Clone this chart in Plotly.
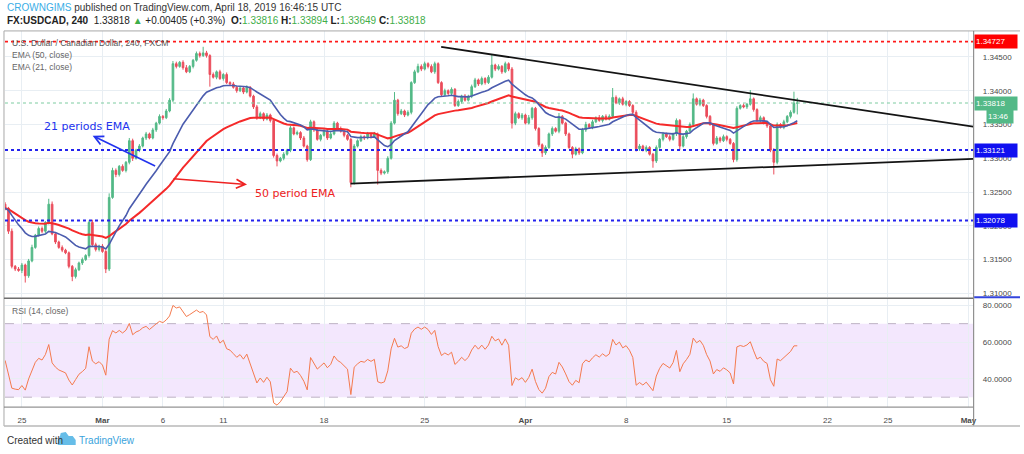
import numpy as np
import pandas as pd
import plotly.graph_objects as go

# ------------------------------------------------------------------ data
# 4-hour bars, weekends skipped; bar 0 = first bar of Mon 25 Feb 2019 (6 bars per day)
FIRST_BAR = -5
FIRST_OPEN = 1.3232
CLOSE = [
    1.3226, 1.3192, 1.3140, 1.3136, 1.3134, 1.3142, 1.3126, 1.3148, 1.3168, 1.3186,
    1.3196, 1.3192, 1.3205, 1.3232, 1.3188, 1.3176, 1.3168, 1.3164, 1.3160, 1.3140,
    1.3125, 1.3135, 1.3145, 1.3150, 1.3156, 1.3205, 1.3172, 1.3165, 1.3170, 1.3162,
    1.3136, 1.3242, 1.3282, 1.3276, 1.3288, 1.3282, 1.3294, 1.3326, 1.3300, 1.3312,
    1.3318, 1.3330, 1.3336, 1.3330, 1.3342, 1.3352, 1.3362, 1.3360, 1.3370, 1.3386,
    1.3440, 1.3436, 1.3442, 1.3434, 1.3428, 1.3436, 1.3445, 1.3455, 1.3452, 1.3456,
    1.3452, 1.3424, 1.3420, 1.3428, 1.3418, 1.3424, 1.3412, 1.3410, 1.3405, 1.3400,
    1.3404, 1.3398, 1.3405, 1.3392, 1.3376, 1.3360, 1.3366, 1.3358, 1.3364, 1.3356,
    1.3304, 1.3296, 1.3300, 1.3306, 1.3312, 1.3345, 1.3336, 1.3338, 1.3330, 1.3318,
    1.3298, 1.3354, 1.3342, 1.3328, 1.3334, 1.3340, 1.3330, 1.3336, 1.3352, 1.3344,
    1.3340, 1.3334, 1.3328, 1.3264, 1.3318, 1.3326, 1.3332, 1.3330, 1.3336, 1.3332,
    1.3336, 1.3282, 1.3278, 1.3280, 1.3300, 1.3352, 1.3386, 1.3366, 1.3370, 1.3364,
    1.3368, 1.3412, 1.3428, 1.3436, 1.3432, 1.3440, 1.3436, 1.3428, 1.3440, 1.3412,
    1.3394, 1.3400, 1.3396, 1.3402, 1.3378, 1.3384, 1.3392, 1.3386, 1.3392, 1.3406,
    1.3416, 1.3410, 1.3418, 1.3412, 1.3420, 1.3438, 1.3432, 1.3436, 1.3428, 1.3440,
    1.3432, 1.3352, 1.3366, 1.3360, 1.3364, 1.3352, 1.3360, 1.3374, 1.3344, 1.3320,
    1.3308, 1.3316, 1.3336, 1.3344, 1.3340, 1.3362, 1.3352, 1.3336, 1.3316, 1.3306,
    1.3314, 1.3308, 1.3342, 1.3350, 1.3346, 1.3354, 1.3360, 1.3356, 1.3362, 1.3358,
    1.3362, 1.3390, 1.3382, 1.3388, 1.3380, 1.3384, 1.3378, 1.3368, 1.3314, 1.3318,
    1.3312, 1.3316, 1.3306, 1.3296, 1.3316, 1.3328, 1.3336, 1.3332, 1.3328, 1.3336,
    1.3356, 1.3318, 1.3332, 1.3340, 1.3350, 1.3388, 1.3380, 1.3386, 1.3378, 1.3362,
    1.3350, 1.3322, 1.3330, 1.3326, 1.3332, 1.3328, 1.3322, 1.3298, 1.3374, 1.3378,
    1.3376, 1.3380, 1.3388, 1.3372, 1.3356, 1.3360, 1.3352, 1.3348, 1.3312, 1.3294,
    1.3350, 1.3346, 1.3354, 1.3362, 1.3368, 1.33816, 1.33818,
]
# wick lengths in pips above the body top / below the body bottom
WICK_UP = [
    3, 2, 4, 2, 3, 3, 2, 3, 4, 2,
    3, 3, 2, 8, 4, 2, 2, 3, 2, 2,
    2, 3, 2, 3, 2, 3, 4, 3, 2, 3,
    2, 6, 4, 3, 2, 3, 2, 4, 3, 2,
    3, 2, 3, 2, 3, 2, 3, 2, 3, 3,
    4, 3, 2, 3, 4, 2, 2, 3, 3, 9,
    3, 2, 3, 2, 3, 2, 3, 2, 3, 2,
    3, 2, 3, 2, 2, 3, 3, 2, 3, 2,
    2, 3, 2, 3, 2, 3, 2, 3, 2, 3,
    2, 3, 2, 3, 2, 4, 3, 5, 3, 2,
    3, 2, 2, 2, 3, 2, 3, 2, 3, 2,
    3, 2, 3, 2, 3, 3, 12, 2, 3, 2,
    3, 2, 3, 4, 3, 3, 2, 3, 3, 2,
    2, 3, 2, 3, 2, 3, 2, 3, 2, 3,
    3, 2, 3, 2, 3, 15, 2, 3, 2, 3,
    2, 3, 3, 2, 3, 2, 4, 2, 2, 2,
    2, 3, 2, 3, 2, 5, 2, 2, 2, 2,
    3, 2, 3, 4, 2, 3, 2, 4, 2, 3,
    3, 14, 3, 2, 3, 2, 2, 2, 3, 3,
    2, 3, 2, 2, 3, 2, 3, 2, 3, 2,
    3, 2, 3, 2, 3, 8, 2, 3, 2, 2,
    2, 2, 3, 2, 3, 2, 2, 2, 3, 2,
    3, 2, 13, 2, 2, 3, 2, 2, 2, 3,
    3, 2, 3, 2, 3, 17, 7.6,
]
WICK_DN = [
    3, 4, 3, 3, 2, 4, 10, 3, 2, 2,
    2, 3, 3, 3, 2, 3, 2, 3, 2, 3,
    7, 3, 2, 3, 2, 3, 2, 3, 3, 2,
    6, 3, 2, 4, 3, 2, 3, 3, 4, 2,
    3, 2, 3, 2, 2, 3, 2, 3, 2, 2,
    3, 3, 2, 3, 2, 2, 3, 2, 3, 2,
    3, 18, 2, 3, 2, 3, 2, 3, 2, 3,
    2, 3, 2, 2, 3, 3, 2, 3, 2, 3,
    3, 8, 2, 3, 2, 3, 2, 2, 3, 2,
    3, 2, 3, 2, 3, 2, 3, 2, 2, 3,
    2, 3, 2, 7, 3, 2, 2, 3, 2, 3,
    2, 21, 3, 2, 3, 2, 2, 3, 2, 3,
    2, 3, 2, 2, 3, 2, 3, 2, 3, 2,
    3, 2, 3, 3, 2, 2, 3, 2, 2, 3,
    2, 3, 2, 3, 2, 2, 3, 2, 3, 2,
    3, 8, 3, 2, 3, 2, 2, 3, 3, 3,
    6, 3, 2, 3, 2, 3, 2, 3, 2, 6,
    2, 3, 2, 3, 2, 3, 2, 2, 3, 2,
    2, 3, 2, 3, 2, 3, 2, 3, 4, 3,
    2, 3, 2, 10, 3, 2, 3, 2, 3, 2,
    3, 6, 2, 3, 2, 3, 2, 3, 2, 3,
    2, 3, 2, 3, 2, 3, 2, 4, 3, 2,
    2, 3, 2, 3, 2, 3, 2, 3, 3, 18,
    3, 2, 3, 2, 3, 2, 16.7,
]
PIP = 0.0001

DATE_TICK_BARS = [0, 24, 42, 60, 90, 120, 150, 180, 210, 240, 258, 282]
DATE_TICK_TEXT = ["25", "<b>Mar</b>", "6", "11", "18", "25", "<b>Apr</b>", "8", "15",
                  "22", "25", "<b>May</b>"]
PRICE_TICKS = [1.310, 1.315, 1.320, 1.325, 1.330, 1.335, 1.340, 1.345]
RSI_TICKS = [40, 60, 80]
RSI_BAND = [30, 70]

RESIST_LEVEL = 1.34727
SUPPORT_LEVELS = [1.33121, 1.32078]
LAST_PRICE = 1.33818
COUNTDOWN = "13:46"
TREND_UPPER_BARS = [124.9, 283.4]
TREND_UPPER_PRICES = [1.34648, 1.33467]
TREND_LOWER_BARS = [97.9, 283.4]
TREND_LOWER_PRICES = [1.32625, 1.32990]

EMA_FAST, EMA_SLOW, RSI_LEN = 21, 50, 14
RSI_SEED = 0.0008          # initial average gain/loss (history before the first bar)

HDR_OPEN, HDR_HIGH, HDR_LOW, HDR_CLOSE = "1.33816", "1.33894", "1.33649", "1.33818"
HDR_CHANGE = "+0.00405 (+0.3%)"

# ------------------------------------------------------------------ derived
n = len(CLOSE)
bars = list(range(FIRST_BAR, FIRST_BAR + n))
close = np.array(CLOSE)
open_ = np.concatenate([[FIRST_OPEN], close[:-1]])
high = np.maximum(open_, close) + np.array(WICK_UP) * PIP
low = np.minimum(open_, close) - np.array(WICK_DN) * PIP

s = pd.Series(close)
ema_fast = s.ewm(span=EMA_FAST, adjust=False).mean()
ema_slow = s.ewm(span=EMA_SLOW, adjust=False).mean()

ag = al = RSI_SEED
rsi = [100 - 100 / (1 + ag / al)]
for d in np.diff(close):
    ag = (ag * (RSI_LEN - 1) + max(d, 0)) / RSI_LEN
    al = (al * (RSI_LEN - 1) + max(-d, 0)) / RSI_LEN
    rsi.append(100 - 100 / (1 + ag / al))

# ------------------------------------------------------------------ figure
W, H = 1024, 454
FONT = "Liberation Sans, Arial, sans-serif"
UP, DOWN = "#53b987", "#eb4d5c"
GRID = "#e8eef3"
TXT = "#4a4a4a"


def fx(px):
    return px / W


def fy(py):
    return 1 - py / H


X_LEFT, X_RIGHT = 5, 977
MAIN_TOP, MAIN_BOT = 31, 298
RSI_TOP, RSI_BOT = 299.5, 408
XRANGE = [FIRST_BAR - 0.04, 283.4]

fig = go.Figure()
fig.add_trace(go.Candlestick(
    x=bars, open=open_, high=high, low=low, close=close,
    increasing=dict(line=dict(color=UP, width=1), fillcolor=UP),
    decreasing=dict(line=dict(color=DOWN, width=1), fillcolor=DOWN),
    whiskerwidth=0, hoverinfo="skip", xaxis="x", yaxis="y"))
fig.add_trace(go.Scatter(x=bars, y=ema_slow, mode="lines",
                         line=dict(color="#f52a2a", width=2), hoverinfo="skip",
                         xaxis="x", yaxis="y"))
fig.add_trace(go.Scatter(x=bars, y=ema_fast, mode="lines",
                         line=dict(color="#4b5cae", width=1.6), hoverinfo="skip",
                         xaxis="x", yaxis="y"))
fig.add_trace(go.Scatter(x=bars, y=rsi, mode="lines",
                         line=dict(color="#f47a4e", width=1), hoverinfo="skip",
                         xaxis="x2", yaxis="y2"))

axis_common = dict(showline=False, zeroline=False, gridcolor=GRID, gridwidth=1,
                   fixedrange=True)
fig.update_layout(
    width=W, height=H, margin=dict(l=0, r=0, t=0, b=0),
    paper_bgcolor="white", plot_bgcolor="white", showlegend=False,
    font=dict(family=FONT, color=TXT),
    xaxis=dict(domain=[fx(X_LEFT), fx(X_RIGHT)], range=XRANGE, anchor="y",
               tickvals=DATE_TICK_BARS, showticklabels=False, ticks="",
               rangeslider=dict(visible=False), **axis_common),
    yaxis=dict(domain=[fy(MAIN_BOT), fy(MAIN_TOP)], range=[1.30941, 1.34885],
               anchor="x", side="right", tickvals=PRICE_TICKS, tickformat=".5f",
               ticks="outside", ticklen=7, tickcolor="rgba(0,0,0,0)",
               tickfont=dict(size=8, color=TXT), **axis_common),
    xaxis2=dict(domain=[fx(X_LEFT), fx(X_RIGHT)], range=XRANGE, anchor="y2",
                tickvals=DATE_TICK_BARS, ticktext=DATE_TICK_TEXT,
                ticks="outside", ticklen=5, tickcolor="rgba(0,0,0,0)",
                tickfont=dict(size=8, color=TXT), **axis_common),
    yaxis2=dict(domain=[fy(RSI_BOT), fy(RSI_TOP)], range=[24.6, 83.5],
                anchor="x2", side="right", tickvals=RSI_TICKS, tickformat=".4f",
                ticks="outside", ticklen=7, tickcolor="rgba(0,0,0,0)",
                tickfont=dict(size=8, color=TXT), **axis_common),
)

# RSI band and its dashed limits
fig.add_shape(type="rect", xref="x2 domain", yref="y2", x0=0, x1=1,
              y0=RSI_BAND[0], y1=RSI_BAND[1], fillcolor="#f3e7fd",
              line=dict(width=0), layer="below")
for lv in RSI_BAND:
    fig.add_shape(type="line", xref="x2 domain", yref="y2", x0=0, x1=1, y0=lv, y1=lv,
                  line=dict(color="#bdb3c4", width=1, dash="dash"), layer="below")

# horizontal levels
fig.add_shape(type="line", xref="x domain", yref="y", x0=0, x1=1,
              y0=LAST_PRICE, y1=LAST_PRICE,
              line=dict(color="#7ccba0", width=1, dash="dot"), layer="above")
fig.add_shape(type="line", xref="x domain", yref="y", x0=0, x1=1,
              y0=RESIST_LEVEL, y1=RESIST_LEVEL,
              line=dict(color="#ff1a1a", width=1.8, dash="dot"), layer="above")
for lv in SUPPORT_LEVELS:
    fig.add_shape(type="line", xref="x domain", yref="y", x0=0, x1=1, y0=lv, y1=lv,
                  line=dict(color="#2222ee", width=2, dash="dot"), layer="above")

# trend lines
for bx, py in ((TREND_UPPER_BARS, TREND_UPPER_PRICES), (TREND_LOWER_BARS, TREND_LOWER_PRICES)):
    fig.add_shape(type="line", xref="x", yref="y", x0=bx[0], x1=bx[1], y0=py[0], y1=py[1],
                  line=dict(color="#141414", width=1.8), layer="above")

# frame lines
for (x0, y0, x1, y1, c, w) in [
    (4, MAIN_TOP, W, MAIN_TOP, "#a8a8a8", 1),
    (4, MAIN_TOP, 4, 427, "#a8a8a8", 1),
    (4, 299, X_RIGHT, 299, "#6f6f6f", 1.5),
    (4, RSI_BOT, X_RIGHT, RSI_BOT, "#7a7a7a", 1),
    (X_RIGHT + 0.5, MAIN_TOP, X_RIGHT + 0.5, 427, "#7a7a7a", 1),
    (4, 427, W, 427, "#b8b8b8", 1.5),
    (X_RIGHT + 1, 298, W, 298, "#3344dd", 2),
]:
    fig.add_shape(type="line", xref="paper", yref="paper", x0=fx(x0), x1=fx(x1),
                  y0=fy(y0), y1=fy(y1), line=dict(color=c, width=w), layer="above")


def note(text, x, y, size, color, xanchor="left", yanchor="middle", family=FONT, **kw):
    fig.add_annotation(text=text, x=fx(x), y=fy(y), xref="paper", yref="paper",
                       showarrow=False, xanchor=xanchor, yanchor=yanchor,
                       font=dict(size=size, color=color, family=family), **kw)


GREEN_TXT = "#3fae49"
note("<span style='color:#3aaee6'>CROWNGIMS</span> published on TradingView.com, "
     "April 18, 2019 16:46:15 UTC", 5, 8, 10, "#333333")
note(f"<b>FX:USDCAD, 240</b>  {HDR_CLOSE} <span style='color:{GREEN_TXT}'>▲</span> {HDR_CHANGE}  "
     f"<b>O:</b><span style='color:{GREEN_TXT}'>{HDR_OPEN}</span> "
     f"<b>H:</b><span style='color:{GREEN_TXT}'>{HDR_HIGH}</span> "
     f"<b>L:</b><span style='color:{GREEN_TXT}'>{HDR_LOW}</span> "
     f"<b>C:</b><span style='color:{GREEN_TXT}'>{HDR_CLOSE}</span>", 5, 21, 10, "#222222")

note("U.S. Dollar / Canadian Dollar, 240, FXCM", 10, 43, 8.5, "#555555")
note("EMA (50, close)", 10, 55, 8.5, "#666666")
note("EMA (21, close)", 10, 67, 8.5, "#666666")
note("RSI (14, close)", 10, 312, 8.5, "#666666")

note("Created with", 5, 441, 10, "#333333")
note("TradingView", 77, 441, 10, "#3aa3dc")
cloud = [(58, 446), (76, 446), (76, 441), (73, 437), (69, 437), (66, 433), (61, 434),
         (60, 438), (58, 441)]
path = "M " + " L ".join(f"{fx(a):.5f},{fy(b):.5f}" for a, b in cloud) + " Z"
fig.add_shape(type="path", xref="paper", yref="paper", path=path,
              fillcolor="#66bde8", line=dict(width=0))

# EMA call-outs
note("21 periods EMA", 87, 127, 11, "#2233ee", xanchor="center", family="DejaVu Sans")
note("50 period EMA", 296, 194, 11, "#ee2222", xanchor="center", family="DejaVu Sans")
fig.add_annotation(x=fx(93), y=fy(136), xref="paper", yref="paper", text="",
                   showarrow=True, ax=157 - 93, ay=167 - 136, arrowhead=5, arrowsize=1.1,
                   arrowwidth=1.6, arrowcolor="#2233ee")
fig.add_annotation(x=fx(248), y=fy(185), xref="paper", yref="paper", text="",
                   showarrow=True, ax=173 - 248, ay=179 - 185, arrowhead=5, arrowsize=1.1,
                   arrowwidth=1.6, arrowcolor="#ee2222")


# price-scale tags
def tag(text, y, bg, xanchor="left", x=X_RIGHT + 1, width=40, yshift=0):
    fig.add_annotation(text=text, x=fx(x), y=y, xref="paper", yref="y", showarrow=False,
                       xanchor=xanchor, yanchor="middle", bgcolor=bg, borderpad=1,
                       width=width, height=11, align="left", yshift=yshift,
                       font=dict(size=8, color="white", family=FONT))


tag(f"{RESIST_LEVEL:.5f}", RESIST_LEVEL, "#ff0000")
tag(f"{LAST_PRICE:.5f}", LAST_PRICE, "#53b987")
tag(COUNTDOWN, LAST_PRICE, "#53b987", xanchor="right", x=1018, width=24, yshift=-13)
for lv in SUPPORT_LEVELS:
    tag(f"{lv:.5f}", lv, "#1010f0")

fig.write_html("out.html", config={"displayModeBar": False},
               post_script="document.body.style.margin='0';")
